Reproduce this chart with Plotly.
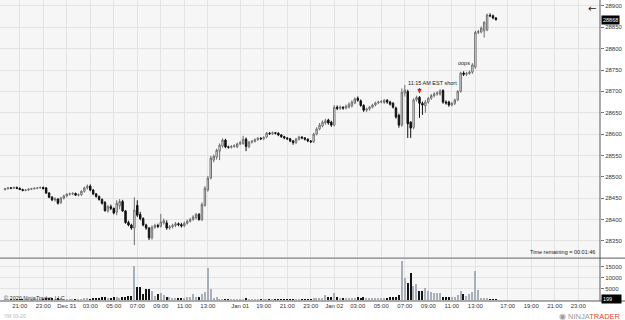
import plotly.graph_objects as go

# ---------------- data (15-minute bars, YM 03-20) ----------------
opens = [28470,28472,28474,28473,28475,28473,28470,28468,28469,28471,28472,28473,28474,28475,
         28474,28462,28452,28446,28448,28440,28450,28455,28459,28460,28461,28457,28458,28466,
         28474,28478,28469,28460,28454,28447,28440,28420,28430,28426,28417,28432,28442,28420,
         28393,28387,28380,28433,28412,28402,28387,28380,28357,28382,28386,28384,28392,28392,
         28380,28383,28386,28390,28388,28385,28391,28396,28400,28404,28412,28400,28433,28469,
         28497,28539,28546,28560,28572,28586,28570,28569,28571,28570,28577,28578,28588,28571,
         28581,28583,28587,28590,28589,28593,28602,28601,28603,28602,28598,28594,28591,28589,
         28584,28580,28588,28593,28591,28588,28584,28582,28600,28612,28619,28626,28633,28628,
         28621,28663,28660,28663,28661,28663,28666,28673,28684,28678,28667,28656,28659,28663,
         28668,28673,28675,28674,28679,28675,28672,28661,28644,28621,28696,28700,28628,28616,
         28680,28686,28672,28666,28675,28684,28690,28694,28694,28702,28675,28675,28668,28672,
         28680,28700,28743,28740,28742,28745,28757,28838,28839,28842,28844,28878,28877,28872]
highs = [28474,28476,28476,28477,28477,28475,28472,28471,28473,28474,28475,28476,28477,28477,
         28476,28464,28455,28452,28450,28453,28458,28462,28463,28464,28463,28461,28468,28477,
         28482,28482,28471,28462,28456,28449,28443,28434,28435,28428,28445,28448,28446,28422,
         28397,28390,28452,28445,28418,28405,28390,28382,28386,28390,28390,28413,28402,28398,
         28387,28390,28394,28393,28392,28395,28400,28404,28410,28415,28415,28440,28478,28502,
         28549,28552,28566,28578,28590,28589,28573,28574,28576,28580,28584,28596,28592,28584,
         28586,28590,28593,28593,28595,28605,28605,28606,28605,28604,28600,28596,28593,28591,
         28586,28591,28596,28595,28593,28590,28586,28603,28616,28626,28632,28636,28636,28631,
         28668,28667,28667,28665,28669,28674,28679,28686,28688,28681,28670,28662,28666,28671,
         28676,28678,28680,28682,28682,28678,28675,28664,28648,28707,28715,28704,28630,28684,
         28690,28689,28676,28680,28687,28694,28698,28700,28705,28705,28679,28678,28675,28683,
         28703,28746,28747,28746,28749,28766,28842,28844,28852,28864,28882,28883,28880,28874]
lows  = [28468,28470,28471,28472,28471,28469,28466,28466,28467,28469,28470,28471,28472,28471,
         28460,28450,28443,28442,28435,28436,28447,28452,28456,28457,28455,28454,28455,28463,
         28470,28466,28457,28451,28444,28435,28418,28416,28422,28412,28410,28424,28418,28390,
         28384,28376,28340,28406,28398,28384,28376,28352,28353,28378,28380,28381,28388,28376,
         28376,28379,28382,28384,28381,28382,28388,28393,28397,28400,28397,28396,28430,28465,
         28494,28534,28540,28539,28568,28567,28566,28566,28568,28567,28574,28575,28560,28567,
         28578,28580,28584,28586,28586,28590,28598,28598,28599,28595,28591,28588,28586,28581,
         28575,28577,28585,28588,28585,28581,28579,28579,28597,28609,28616,28622,28622,28617,
         28618,28656,28657,28657,28658,28660,28662,28670,28676,28664,28652,28652,28655,28660,
         28665,28670,28672,28671,28671,28667,28660,28636,28615,28617,28688,28591,28591,28611,
         28676,28638,28645,28650,28671,28680,28686,28690,28690,28671,28669,28664,28665,28668,
         28677,28697,28736,28736,28739,28741,28753,28834,28836,28826,28841,28874,28869,28866]
closes = [28472,28474,28473,28475,28473,28470,28468,28469,28471,28472,28473,28474,28475,28472,
          28462,28452,28446,28448,28438,28450,28455,28459,28460,28461,28457,28458,28466,28474,
          28478,28469,28460,28454,28447,28438,28421,28430,28426,28415,28438,28442,28420,28393,
          28387,28380,28422,28410,28402,28387,28380,28357,28382,28386,28384,28394,28397,28380,
          28383,28386,28390,28388,28385,28391,28396,28400,28406,28412,28400,28435,28473,28497,
          28544,28548,28562,28574,28586,28570,28569,28571,28573,28577,28580,28588,28571,28581,
          28583,28587,28590,28589,28592,28602,28601,28603,28602,28598,28594,28591,28589,28584,
          28580,28588,28593,28591,28588,28584,28582,28600,28612,28621,28628,28631,28626,28621,
          28663,28660,28663,28661,28665,28670,28675,28682,28679,28667,28656,28659,28663,28668,
          28673,28675,28676,28679,28675,28670,28663,28640,28621,28698,28703,28624,28614,28680,
          28686,28672,28668,28675,28684,28690,28694,28696,28701,28675,28673,28668,28672,28680,
          28700,28743,28740,28742,28745,28762,28838,28840,28848,28862,28879,28877,28872,28868]
volumes = [150,120,100,130,90,110,80,100,120,90,110,100,130,150,
           600,700,500,400,800,600,
           300,250,200,250,200,300,400,500,600,400,500,
           900,1000,1100,1300,1000,900,1100,1200,1000,1300,1400,1900,1900,
           15100,5750,5900,2800,4700,4800,3900,1550,2650,3100,2200,1250,
           1200,1000,900,1000,800,900,1100,1300,2800,1200,1100,2800,3600,14300,4700,600,1400,400,
           300,200,150,100,120,100,
           200,150,600,150,100,120,100,150,100,120,100,90,110,100,130,120,100,150,120,110,130,200,150,180,300,
           600,600,800,900,2300,1300,1400,3100,1300,800,
           800,700,900,800,1000,1100,900,1300,800,700,800,700,600,800,700,900,1200,1500,1500,2300,
           17400,10100,7800,12100,6200,7000,3900,3900,5400,3900,3400,3100,3100,3100,1500,1200,1200,
           1100,1500,2300,3900,2800,1900,2800,3400,12900,4400,800,600,600,400,300,199]

tick_bars = [5,13,21,29,37,45,53,61,69,80,88,96,104,112,120,128,136,144,152,160,171,179,187,195]
tick_labels = ["21:00","23:00","Dec 31","03:00","05:00","07:00","09:00","11:00","13:00",
               "Jan 01","19:00","21:00","23:00","Jan 02","03:00","05:00","07:00","09:00",
               "11:00","13:00","17:00","19:00","21:00","23:00"]

n = len(closes)
bars = list(range(n))

FONT = "Liberation Sans"
UP_VOL = "#a7afba"
DN_VOL = "#141414"
vol_colors = [UP_VOL if c >= o else DN_VOL for o, c in zip(opens, closes)]

fig = go.Figure()
fig.add_trace(go.Candlestick(
    x=bars, open=opens, high=highs, low=lows, close=closes,
    increasing=dict(line=dict(color="#6f6f6f", width=1), fillcolor="#ffffff"),
    decreasing=dict(line=dict(color="#111111", width=1), fillcolor="#111111"),
    whiskerwidth=0, hoverinfo="skip", xaxis="x", yaxis="y"))
fig.add_trace(go.Bar(x=bars, y=volumes, marker=dict(color=vol_colors, line=dict(width=0)),
                     width=0.45, hoverinfo="skip", xaxis="x2", yaxis="y2"))

grid = "#e3e3e3"
axis_font = dict(family=FONT, size=6, color="#333333")
xr = [-1.7, 202.4]
price_dom = [0.146, 1.0]
vol_dom = [0.0, 0.1395]

fig.update_layout(
    width=625, height=320, template="none",
    margin=dict(l=0, r=25, t=0, b=19),
    paper_bgcolor="#ffffff", plot_bgcolor="#f6f6f6",
    showlegend=False, bargap=0,
    font=dict(family=FONT, size=6, color="#333333"),
    xaxis=dict(domain=[0, 1], anchor="y", range=xr, tickvals=tick_bars, ticktext=tick_labels,
               showticklabels=False, showgrid=True, gridcolor=grid, gridwidth=1, zeroline=False,
               rangeslider=dict(visible=False), automargin=False, matches="x2"),
    xaxis2=dict(domain=[0, 1], anchor="y2", range=xr, tickvals=tick_bars, ticktext=tick_labels,
                showticklabels=True, tickfont=axis_font, ticks="", showgrid=True, gridcolor=grid,
                zeroline=False, automargin=False),
    yaxis=dict(domain=price_dom, side="right", range=[28312, 28914], tick0=28350, dtick=50,
               tickformat="d", tickfont=axis_font, ticks="outside", ticklen=3, tickcolor="#777777",
               showgrid=True, gridcolor=grid, zeroline=False, automargin=False, anchor="x"),
    yaxis2=dict(domain=vol_dom, side="right", range=[-500, 18450], tickvals=[5000, 10000, 15000],
                tickformat="d", tickfont=axis_font, ticks="outside", ticklen=3, tickcolor="#777777",
                showgrid=True, gridcolor=grid, zeroline=False, automargin=False, anchor="x2"),
)

line_col = "#5a5a5a"
shapes = [
    dict(type="line", xref="paper", yref="paper", x0=0, x1=1.05, y0=0.1425, y1=0.1425,
         line=dict(color=line_col, width=1)),
    dict(type="line", xref="paper", yref="paper", x0=0, x1=1.05, y0=0, y1=0,
         line=dict(color=line_col, width=1)),
    dict(type="line", xref="paper", yref="paper", x0=1, x1=1, y0=0, y1=1,
         line=dict(color=line_col, width=1)),
]
fig.update_layout(shapes=shapes)

ann = [
    dict(x=136.5, y=28719, xref="x", yref="y", text="11:15 AM EST short", showarrow=False,
         xanchor="left", yanchor="middle", font=dict(family=FONT, size=5.5, color="#222222")),
    dict(x=141, y=28695, xref="x", yref="y", ax=0, ay=-7, text="", showarrow=True,
         arrowhead=2, arrowsize=0.7, arrowwidth=1.3, arrowcolor="#e0201c"),
    dict(x=156, y=28766, xref="x", yref="y", text="oops", showarrow=False,
         xanchor="center", yanchor="middle", font=dict(family=FONT, size=5.5, color="#222222")),
    dict(x=0.995, y=28323, xref="paper", yref="y", text="Time remaining = 00:01:46", showarrow=False,
         xanchor="right", yanchor="middle", font=dict(family=FONT, size=5.5, color="#222222")),
    dict(x=0.004, y=700, xref="paper", yref="y2", text="© 2020 NinjaTrader, LLC", showarrow=False,
         xanchor="left", yanchor="middle", font=dict(family=FONT, size=5.5, color="#333333")),
    dict(x=0.004, y=-0.05, xref="paper", yref="paper", text="YM 03-20", showarrow=False,
         xanchor="left", yanchor="middle", font=dict(family=FONT, size=5, color="#b5b5b5")),
    dict(x=0.987, y=0.972, xref="paper", yref="paper", text="←", showarrow=False,
         xanchor="center", yanchor="middle", font=dict(family="DejaVu Sans", size=10, color="#222222")),
    dict(x=1.002, y=closes[-1], xref="paper", yref="y", text=str(closes[-1]), showarrow=False,
         xanchor="left", yanchor="middle", bgcolor="#000000", borderpad=1,
         font=dict(family=FONT, size=5.5, color="#ffffff")),
    dict(x=1.002, y=volumes[-1], xref="paper", yref="y2", text=str(volumes[-1]) + "&nbsp;&nbsp;&nbsp;&nbsp;&nbsp;",
         showarrow=False, xanchor="left", yanchor="middle", bgcolor="#000000", borderpad=1,
         font=dict(family=FONT, size=5.5, color="#ffffff")),
    dict(x=1.038, y=-0.05, xref="paper", yref="paper",
         text="<span style='color:#9a9a9a'>◉ NINJA</span><span style='color:#e5452f'>TRADER</span>",
         showarrow=False, xanchor="right", yanchor="middle",
         font=dict(family=FONT, size=7.5, color="#9a9a9a")),
]
fig.update_layout(annotations=ann)

fig.write_html("out.html")
